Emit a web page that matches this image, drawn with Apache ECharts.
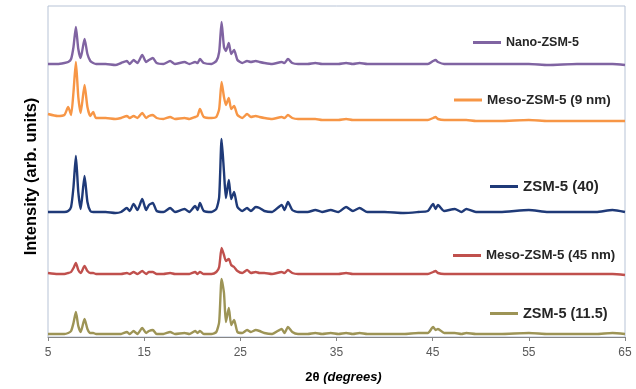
<!DOCTYPE html>
<html>
<head>
<meta charset="utf-8">
<script src="https://cdn.jsdelivr.net/npm/echarts@6/dist/echarts.min.js"></script>
<style>
  html, body { margin: 0; padding: 0; background: #fff; }
  #container { width: 636px; height: 389px; }
</style>
</head>
<body>
<div id="container"></div>
<script>
// 2θ positions (degrees) shared by all patterns
var twoTheta = [5, 6, 6.7, 7.1, 7.4, 7.65, 7.9, 8.15, 8.4, 8.8, 9.1, 9.4, 9.7, 10.0, 11, 12, 12.6,
  13.2, 13.5, 13.9, 14.3, 14.8, 15.2, 15.5, 15.9, 16.3, 17.0, 17.7, 18.2, 19.2, 19.7, 20.3, 20.55,
  20.8, 21.2, 22.0, 22.5, 22.8, 23.05, 23.3, 23.5, 23.8, 24.05, 24.35, 24.7, 25.2, 25.7, 26.1, 26.6,
  27.0, 27.5, 28.3, 29.3, 29.6, 29.95, 30.4, 31.0, 32.0, 32.8, 33.5, 34.4, 35.2, 36.0, 36.7, 37.4,
  38.2, 40, 42, 43.5, 44.5, 45.05, 45.3, 45.55, 46.2, 47.3, 48.0, 48.5, 49.5, 52, 55, 57, 60, 62, 63.7, 65];

// intensities (arb. units, patterns already offset)
var nanoZsm5 = [273, 273, 274, 275, 278, 290, 310, 288, 279, 298, 283, 276, 274, 273, 273, 272, 274,
  276, 273, 277, 274, 282, 275, 277, 279, 274, 273, 276, 273, 275, 273, 275, 274,
  278, 274, 273, 276, 285, 315, 290, 286, 294, 283, 287, 277, 274, 276, 275, 276,
  275, 274, 273, 275, 274, 278, 274, 273, 273, 274, 273, 273, 273, 274, 273, 274,
  273, 273, 273, 273, 273, 276, 277, 275, 273, 273, 273, 273, 273, 273, 273, 272, 273, 273, 273, 272];

var meso9nm = [223, 221, 222, 230, 222, 245, 275, 240, 224, 252, 230, 221, 225, 219, 219, 218, 219,
  221, 219, 221, 219, 224, 219, 221, 222, 219, 218, 220, 218, 219, 218, 220, 221,
  228, 220, 219, 220, 228, 255, 240, 232, 239, 228, 231, 222, 219, 223, 220, 221,
  220, 219, 218, 220, 219, 222, 219, 218, 218, 218, 217, 217, 217, 218, 217, 217,
  217, 217, 217, 217, 217, 219, 220, 218, 217, 217, 217, 217, 216, 216, 217, 216, 216, 216, 216, 216];

var zsm5_40 = [125, 125, 125, 126, 130, 150, 181, 145, 128, 161, 135, 126, 125, 125, 125, 124, 125,
  129, 126, 133, 127, 138, 127, 132, 134, 126, 125, 129, 125, 128, 125, 131, 127,
  134, 126, 125, 128, 140, 198, 165, 139, 157, 138, 145, 130, 126, 129, 126, 130,
  129, 126, 125, 132, 127, 135, 127, 125, 125, 127, 125, 127, 125, 130, 126, 129,
  125, 125, 124, 125, 126, 133, 128, 132, 126, 128, 125, 128, 125, 125, 127, 125, 125, 125, 127, 125];

var meso45nm = [64, 63, 63, 64, 65, 69, 74, 67, 64, 71, 66, 64, 64, 63, 63, 63, 63,
  64, 63, 65, 63, 66, 63, 65, 65, 63, 63, 64, 63, 63, 63, 65, 63,
  65, 63, 63, 65, 70, 89, 82, 76, 78, 72, 70, 66, 64, 67, 64, 65,
  64, 64, 63, 65, 64, 67, 64, 63, 63, 63, 63, 63, 63, 64, 63, 63,
  63, 63, 63, 63, 63, 65, 66, 64, 63, 63, 63, 63, 63, 63, 63, 63, 63, 63, 63, 62];

var zsm5_115 = [3, 3, 3, 4, 6, 14, 25, 11, 5, 18, 8, 4, 4, 3, 3, 3, 3,
  5, 3, 6, 3, 9, 4, 6, 7, 3, 3, 5, 3, 4, 3, 6, 4,
  6, 3, 3, 5, 15, 58, 44, 15, 29, 12, 17, 5, 4, 7, 5, 7,
  6, 4, 3, 8, 4, 10, 5, 3, 3, 4, 3, 4, 3, 4, 3, 4,
  3, 3, 3, 4, 4, 10, 7, 8, 4, 4, 3, 4, 3, 3, 4, 3, 3, 3, 4, 3];

var seriesNames = ['Nano-ZSM-5', 'Meso-ZSM-5 (9 nm)', 'ZSM-5 (40)', 'Meso-ZSM-5 (45 nm)', 'ZSM-5 (11.5)'];
var seriesValues = [nanoZsm5, meso9nm, zsm5_40, meso45nm, zsm5_115];
var seriesColors = ['#8064A2', '#F79646', '#1F3A78', '#C0504D', '#9D9456'];
var xTicks = { min: 5, max: 65, step: 10 };

// legend boxes sit next to each curve
var legendPos = [
  { left: 473, top: 34, size: 12.5 },
  { left: 454, top: 91, size: 13.5 },
  { left: 490, top: 178, size: 15 },
  { left: 453, top: 247, size: 13.3 },
  { left: 490, top: 305, size: 14.5 }
];

var myChart = echarts.init(document.getElementById('container'));

var series = seriesNames.map(function (name, i) {
  return {
    name: name,
    type: 'line',
    showSymbol: false,
    symbol: 'none',
    smooth: 0.2,
    lineStyle: { color: seriesColors[i], width: 2.4 },
    itemStyle: { color: seriesColors[i] },
    data: twoTheta.map(function (t, k) { return [t, seriesValues[i][k]]; })
  };
});

var legends = seriesNames.map(function (name, i) {
  var h = Math.round(legendPos[i].size * 1.2);
  return {
    data: [name],
    left: legendPos[i].left,
    top: legendPos[i].top + 8 - Math.round(h / 2) + 2,
    padding: 0,
    icon: 'rect',
    itemWidth: 28,
    itemHeight: 3,
    itemGap: 4,
    selectedMode: false,
    textStyle: {
      fontFamily: 'Liberation Sans, Arial, sans-serif',
      fontWeight: 'bold',
      fontSize: legendPos[i].size,
      color: '#262626'
    }
  };
});

myChart.setOption({
  animation: false,
  grid: {
    left: 48, right: 11, top: 6, bottom: 52,
    show: true,
    borderColor: '#B7C3D6',
    borderWidth: 1
  },
  legend: legends,
  xAxis: {
    type: 'value',
    min: xTicks.min,
    max: xTicks.max,
    interval: xTicks.step,
    name: '{b|2θ }{i|(degrees)}',
    nameLocation: 'middle',
    nameGap: 34,
    nameTextStyle: {
      padding: [0, 0, 0, 14],
      rich: {
        b: { fontFamily: 'Liberation Sans, Arial, sans-serif', fontWeight: 'bold', fontSize: 13, color: '#000' },
        i: { fontFamily: 'Liberation Sans, Arial, sans-serif', fontWeight: 'bold', fontStyle: 'italic', fontSize: 13, color: '#000' }
      }
    },
    axisLine: { lineStyle: { color: '#868686', width: 1 } },
    axisTick: { show: true, length: 4, lineStyle: { color: '#868686' } },
    axisLabel: {
      fontFamily: 'Liberation Sans, Arial, sans-serif',
      fontSize: 12,
      color: '#595959',
      margin: 10
    },
    splitLine: { show: false }
  },
  yAxis: {
    type: 'value',
    min: 0,
    max: 331,
    name: 'Intensity (arb. units)',
    nameLocation: 'middle',
    nameGap: 8,
    nameTextStyle: {
      fontFamily: 'Liberation Sans, Arial, sans-serif',
      fontWeight: 'bold',
      fontSize: 16.5,
      color: '#000',
      padding: [0, 10, 0, 0]
    },
    axisLine: { show: false },
    axisTick: { show: false },
    axisLabel: { show: false },
    splitLine: { show: false }
  },
  series: series
});
</script>
</body>
</html>
